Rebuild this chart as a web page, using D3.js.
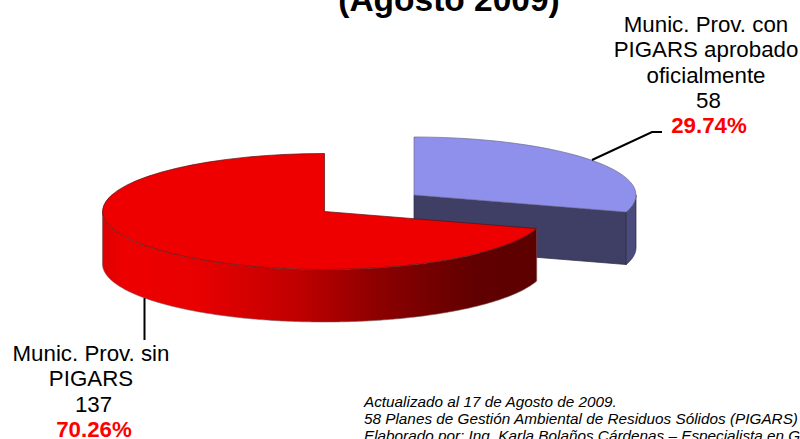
<!DOCTYPE html>
<html>
<head>
<meta charset="utf-8">
<script src="https://cdn.jsdelivr.net/npm/d3@7"></script>
<style>
  html, body { margin: 0; padding: 0; background: #fff; overflow: hidden; }
  text { font-family: "Liberation Sans", Arial, sans-serif; fill: #000; }
</style>
</head>
<body>
<script>
// values
const categories = ["Munic. Prov. con PIGARS aprobado oficialmente", "Munic. Prov. sin PIGARS"];
const values = [58, 137];
const labelLines = [
    ["Munic. Prov. con", "PIGARS aprobado", "oficialmente"],
    ["Munic. Prov. sin", "PIGARS"]
];
const titleText = "(Agosto 2009)";
const notes = [
    "Actualizado al 17 de Agosto de 2009.",
    "58 Planes de Gestión Ambiental de Residuos Sólidos (PIGARS)",
    "Elaborado por: Ing. Karla Bolaños Cárdenas – Especialista en Gestión"
];

let width = 800, height = 439

let rx = 222, ry = 58, depth = 52.5
let centers = [[414, 195], [324.5, 211.5]] // blue slice is pulled out
let topColors = ["#8f8fec", "#ee0000"]

let svg = d3.select("body").append("svg")
    .attr("width", width)
    .attr("height", height)

let defs = svg.append("defs")
let grad = defs.append("linearGradient")
    .attr("id", "redWall")
    .attr("gradientUnits", "userSpaceOnUse")
    .attr("x1", 102).attr("x2", 537).attr("y1", 0).attr("y2", 0)
grad.selectAll("stop")
    .data([[0, "#dd0000"], [0.05, "#ee0000"], [0.22, "#e80000"], [0.45, "#c00000"], [0.62, "#900000"], [0.85, "#620000"], [1, "#5c0000"]])
    .join("stop")
    .attr("offset", d => d[0])
    .attr("stop-color", d => d[1])

let pie = d3.pie().sort(null).value(d => d)
let slices = pie(values)

let arc = d3.arc().innerRadius(0).outerRadius(rx)

// screen position of an angle on the rim of a slice
let rimX = (i, a) => centers[i][0] + rx * Math.sin(a)
let rimY = (i, a) => centers[i][1] - ry * Math.cos(a)

function wall(i, a0, a1) {
    let area = d3.area()
        .x(a => rimX(i, a))
        .y0(a => rimY(i, a))
        .y1(a => rimY(i, a) + depth)
    return area(d3.range(a0, a1, 0.01).concat([a1]))
}

function radialFace(i, a) {
    let [cx, cy] = centers[i]
    let x = rimX(i, a), y = rimY(i, a)
    return d3.line()([[cx, cy], [x, y], [x, y + depth], [cx, cy + depth]]) + "Z"
}

// blue slice, back
let blue = slices[0]
svg.append("path")
    .attr("d", radialFace(0, blue.endAngle))
    .attr("fill", "#3f3f66")
    .attr("stroke", "#26263f")
    .attr("stroke-width", 0.7)
svg.append("path")
    .attr("d", wall(0, Math.PI / 2, blue.endAngle))
    .attr("fill", "#4a4a7c")
    .attr("stroke", "#26263f")
    .attr("stroke-width", 0.7)

// red slice, front
let red = slices[1]
svg.append("path")
    .attr("d", wall(1, red.startAngle, Math.PI * 1.5))
    .attr("fill", "url(#redWall)")
    .attr("stroke", "#7a5a5a")
    .attr("stroke-width", 0.6)

// top faces, d3.arc squashed into an ellipse
svg.selectAll("path.top")
    .data(slices)
    .join("path")
    .attr("class", "top")
    .attr("transform", (d, i) => `translate(${centers[i][0]},${centers[i][1]}) scale(1,${ry / rx})`)
    .attr("d", arc)
    .attr("fill", (d, i) => topColors[i])
    .attr("stroke", (d, i) => i == 0 ? "#6c6c90" : "#5a1010")
    .attr("stroke-width", 0.7)
    .style("vector-effect", "non-scaling-stroke")

// leader lines
let leaders = [[[592, 160], [652, 132], [662, 132]], [[144.5, 298], [144.5, 340]]]
svg.selectAll("path.leader")
    .data(leaders)
    .join("path")
    .attr("class", "leader")
    .attr("d", d3.line())
    .attr("fill", "none")
    .attr("stroke", "#000")
    .attr("stroke-width", 2)

svg.append("text")
    .attr("x", 449)
    .attr("y", 11)
    .attr("text-anchor", "middle")
    .attr("font-size", 33.5)
    .attr("font-weight", "bold")
    .text(titleText)

// data labels
let labelPos = [[706, 32], [91, 361]]
let lineH = 25.3
let pct = d3.format(".2%")
slices.forEach((s, i) => {
    let names = labelLines[i]
    let g = svg.append("g").attr("text-anchor", "middle").attr("font-size", 22.3)
    g.selectAll("text.l")
        .data(names)
        .join("text")
        .attr("class", "l")
        .attr("x", labelPos[i][0])
        .attr("y", (d, k) => labelPos[i][1] + k * lineH)
        .text(d => d)
    // count and percent sit a bit right of the name
    g.append("text")
        .attr("x", labelPos[i][0] + 2.5)
        .attr("y", labelPos[i][1] + names.length * lineH)
        .text(values[i])
    g.append("text")
        .attr("x", labelPos[i][0] + 3)
        .attr("y", labelPos[i][1] + (names.length + 1) * lineH)
        .attr("font-weight", "bold")
        .style("fill", "#ff0000")
        .text(pct(s.value / d3.sum(values)))
})

// footnote
svg.selectAll("text.note")
    .data(notes)
    .join("text")
    .attr("class", "note")
    .attr("x", 364)
    .attr("y", (d, i) => 407 + i * 17)
    .attr("font-size", 15.3)
    .attr("font-style", "italic")
    .text(d => d)
</script>
</body>
</html>
